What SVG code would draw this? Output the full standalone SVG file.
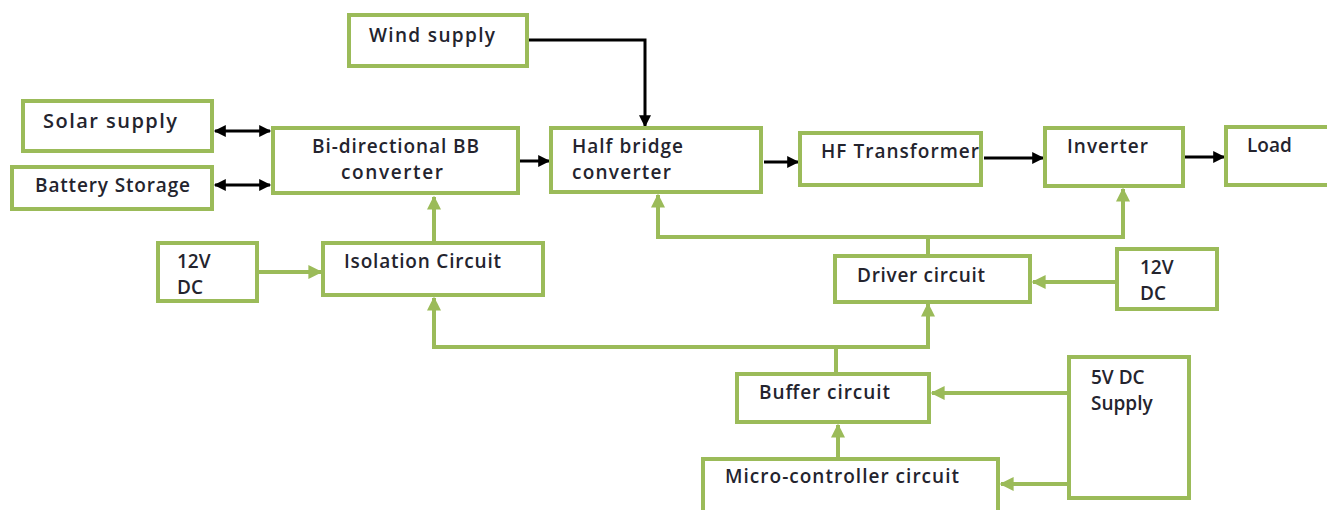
<svg xmlns="http://www.w3.org/2000/svg" width="1327" height="510" viewBox="0 0 1327 510">
<defs>
<style>
.box{fill:#fff;stroke:#9BBB59;stroke-width:4}
.t{font-family:"Open Sans","Liberation Sans",sans-serif;font-size:19px;font-weight:600;fill:#24242e}
.k{fill:none;stroke:#000;stroke-width:3}
.g{fill:none;stroke:#9BBB59;stroke-width:4}
</style>
<marker id="ab" viewBox="0 0 10 10" refX="9" refY="5" markerWidth="4.3" markerHeight="4" orient="auto-start-reverse" markerUnits="strokeWidth"><path d="M0,0L10,5L0,10z" fill="#000"/></marker>
<marker id="ag" viewBox="0 0 10 10" refX="9" refY="5" markerWidth="3.5" markerHeight="3.5" orient="auto" markerUnits="strokeWidth"><path d="M0,0L10,5L0,10z" fill="#9BBB59"/></marker>
</defs>
<rect width="1327" height="510" fill="#fff"/>
<g id="connectors">
<path class="k" d="M215,131H270" marker-start="url(#ab)" marker-end="url(#ab)"/>
<path class="k" d="M215,185H270" marker-start="url(#ab)" marker-end="url(#ab)"/>
<path class="k" d="M527,40H645V126"  marker-end="url(#ab)"/>
<path class="k" d="M520,161H549" marker-end="url(#ab)"/>
<path class="k" d="M764,162H798" marker-end="url(#ab)"/>
<path class="k" d="M984,158H1043" marker-end="url(#ab)"/>
<path class="k" d="M1185,157H1224" marker-end="url(#ab)"/>
<path class="g" d="M434,243V197" marker-end="url(#ag)"/>
<path class="g" d="M258,272H321" marker-end="url(#ag)"/>
<path class="g" d="M928,256V237H658V195" marker-end="url(#ag)"/>
<path class="g" d="M928,237H1123V189" marker-end="url(#ag)"/>
<path class="g" d="M1117,282H1033" marker-end="url(#ag)"/>
<path class="g" d="M836,374V347H434V298" marker-end="url(#ag)"/>
<path class="g" d="M836,347H928V304" marker-end="url(#ag)"/>
<path class="g" d="M1069,393H932" marker-end="url(#ag)"/>
<path class="g" d="M1069,484H1001" marker-end="url(#ag)"/>
<path class="g" d="M838,459V425" marker-end="url(#ag)"/>
</g>
<g id="wind"><rect class="box" x="349" y="15" width="178" height="51"/><text class="t" x="369" y="42" textLength="126">Wind supply</text></g>
<g id="solar"><rect class="box" x="23" y="101" width="189" height="50"/><text class="t" x="43" y="128" textLength="134" style="font-size:20px">Solar supply</text></g>
<g id="battery"><rect class="box" x="12" y="167" width="200" height="42"/><text class="t" x="35" y="192" textLength="155">Battery Storage</text></g>
<g id="bidir"><rect class="box" x="273" y="128" width="245" height="65"/><text class="t" x="312" y="153" textLength="167">Bi-directional BB</text><text class="t" x="341" y="179" textLength="102">converter</text></g>
<g id="halfbridge"><rect class="box" x="551" y="128" width="210" height="64"/><text class="t" x="572" y="153" textLength="111">Half bridge</text><text class="t" x="572" y="179" textLength="99">converter</text></g>
<g id="hf"><rect class="box" x="800" y="133" width="181" height="52"/><text class="t" x="821" y="158" textLength="158">HF Transformer</text></g>
<g id="inverter"><rect class="box" x="1045" y="128" width="138" height="58"/><text class="t" x="1067" y="153" textLength="81">Inverter</text></g>
<g id="load"><rect class="box" x="1226" y="127" width="110" height="58"/><text class="t" x="1247" y="152">Load</text></g>
<g id="dc12a"><rect class="box" x="158" y="243" width="99" height="58"/><text class="t" x="177" y="268">12V</text><text class="t" x="177" y="294">DC</text></g>
<g id="isolation"><rect class="box" x="323" y="243" width="220" height="52"/><text class="t" x="344" y="268" textLength="157">Isolation Circuit</text></g>
<g id="driver"><rect class="box" x="835" y="256" width="195" height="46"/><text class="t" x="857" y="282" textLength="128">Driver circuit</text></g>
<g id="dc12b"><rect class="box" x="1117" y="249" width="100" height="60"/><text class="t" x="1140" y="274">12V</text><text class="t" x="1140" y="300">DC</text></g>
<g id="buffer"><rect class="box" x="737" y="374" width="192" height="48"/><text class="t" x="759" y="399" textLength="131">Buffer circuit</text></g>
<g id="dc5"><rect class="box" x="1069" y="357" width="120" height="141"/><text class="t" x="1091" y="384">5V DC</text><text class="t" x="1091" y="410">Supply</text></g>
<g id="micro"><rect class="box" x="703" y="459" width="295" height="60"/><text class="t" x="725" y="483" textLength="234">Micro-controller circuit</text></g>
</svg>
